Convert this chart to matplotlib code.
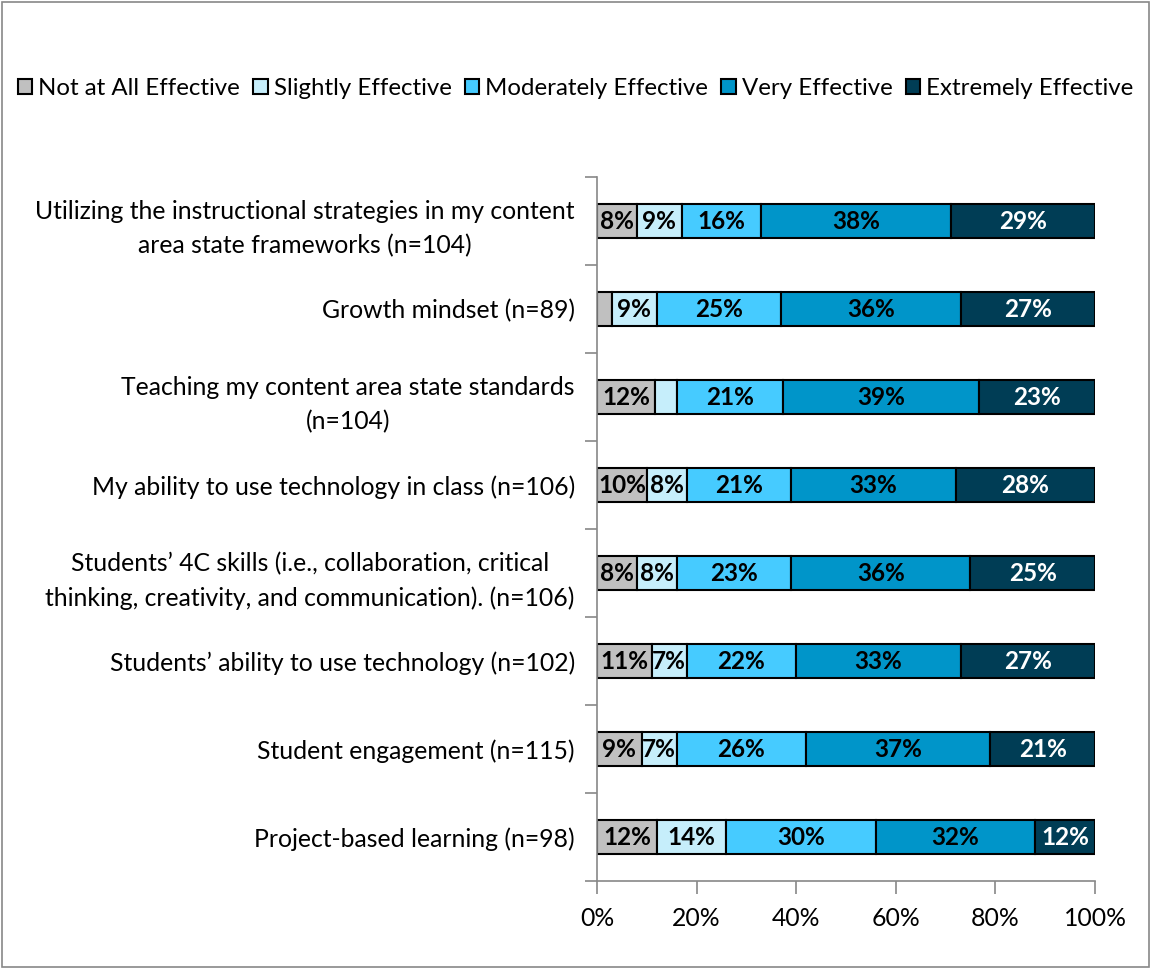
import matplotlib
matplotlib.use("Agg")
import matplotlib.pyplot as plt
from matplotlib.patches import Rectangle

plt.rcParams['font.family'] = ['Lato', 'DejaVu Sans']

categories = [
    "Utilizing the instructional strategies in my content\narea state frameworks (n=104)",
    "Growth mindset (n=89)",
    "Teaching my content area state standards\n(n=104)",
    "My ability to use technology in class (n=106)",
    "Students\u2019 4C skills (i.e., collaboration, critical\nthinking, creativity, and communication). (n=106)",
    "Students\u2019 ability to use technology (n=102)",
    "Student engagement (n=115)",
    "Project-based learning (n=98)",
]
series_names = ["Not at All Effective", "Slightly Effective", "Moderately Effective",
                "Very Effective", "Extremely Effective"]
not_at_all = [8, 3, 11.6, 10, 8, 11, 9, 12]
slightly = [9, 9, 4.4, 8, 8, 7, 7, 14]
moderately = [16, 25, 21.3, 21, 23, 22, 26, 30]
very = [38, 36, 39.4, 33, 36, 33, 37, 32]
extremely = [29, 27, 23.3, 28, 25, 27, 21, 12]
colors = ["#C0C0C0", "#C6EEFB", "#46CBFF", "#0095C9", "#003D55"]
text_colors = ["black", "black", "black", "black", "white"]

series = [not_at_all, slightly, moderately, very, extremely]

fig = plt.figure(figsize=(11.51, 9.69), dpi=100)
fig.patches.append(Rectangle((0.002, 0.002), 0.996, 0.996, transform=fig.transFigure,
                             fill=False, edgecolor="#888888", linewidth=1.2))
ax = fig.add_axes([0.5187, 0.0908, 0.4326, 0.7265])

n = len(categories)
ypos = list(range(n))
left = [0.0] * n
for vals, col, tc, name in zip(series, colors, text_colors, series_names):
    ax.barh(ypos, vals, left=left, height=0.38, color=col, edgecolor="black",
            linewidth=1.5, label=name)
    for i, (v, l) in enumerate(zip(vals, left)):
        if v >= 5:
            ax.text(l + v / 2, i, f"{round(v)}%", ha="center", va="center",
                    fontsize=17.5, fontweight="bold", color=tc)
    left = [a + b for a, b in zip(left, vals)]

ax.set_xlim(0, 100)
ax.set_ylim(n - 0.5, -0.5)
ax.set_yticks(ypos)
ax.set_yticklabels(categories, fontsize=17.8, ha="right", linespacing=1.6,
                   multialignment="center")
ax.tick_params(axis="y", length=0, pad=16)
# category boundary ticks
ax.set_yticks([i - 0.5 for i in range(n + 1)], minor=True)
ax.tick_params(axis="y", which="minor", length=9, color="#888888", width=1.2)
ax.set_xticks([0, 20, 40, 60, 80, 100])
ax.set_xticklabels([f"{t}%" for t in [0, 20, 40, 60, 80, 100]], fontsize=17.8)
ax.tick_params(axis="x", length=9, color="#888888", width=1.2, pad=10)
for s in ["top", "right"]:
    ax.spines[s].set_visible(False)
for s in ["left", "bottom"]:
    ax.spines[s].set_color("#888888")
    ax.spines[s].set_linewidth(1.2)

handles, labels = ax.get_legend_handles_labels()
fig.legend(handles, labels, loc="center", bbox_to_anchor=(0.5, 0.909), ncol=5,
           frameon=False, fontsize=17.3, handlelength=0.6, handleheight=0.6,
           handletextpad=0.25, columnspacing=0.55, borderaxespad=0)

fig.savefig("out.png", dpi=100)
